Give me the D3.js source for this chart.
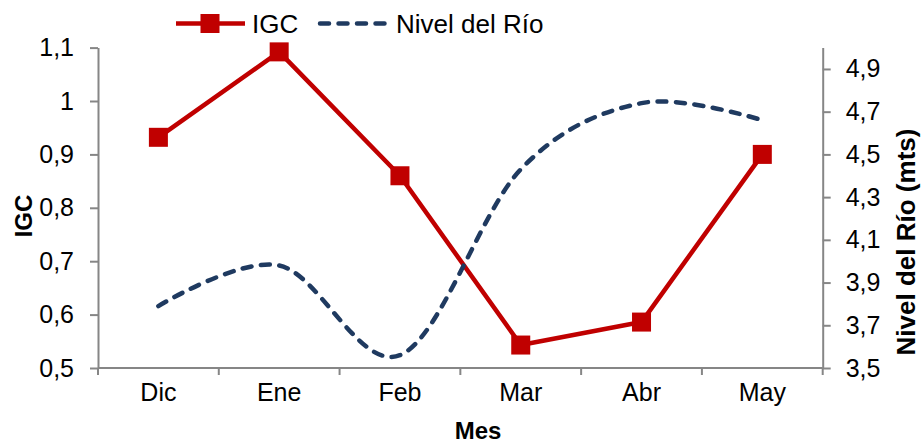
<!DOCTYPE html>
<html>
<head>
<meta charset="utf-8">
<script src="https://cdn.jsdelivr.net/npm/d3@7"></script>
<style>
  html, body { margin: 0; padding: 0; background: #fff; }
  svg text { font-family: "Liberation Sans", Arial, sans-serif; fill: #000; }
</style>
</head>
<body>
<svg id="chart" width="921" height="445"></svg>
<script>
const months = ["Dic", "Ene", "Feb", "Mar", "Abr", "May"];
const igc = [0.932, 1.092, 0.860, 0.543, 0.586, 0.900];
const nivel = [3.79, 3.98, 3.56, 4.43, 4.74, 4.66];
const leftTicks = [0.5, 0.6, 0.7, 0.8, 0.9, 1.0, 1.1];
const leftTickLabels = ["0,5", "0,6", "0,7", "0,8", "0,9", "1", "1,1"];
const rightTicks = [3.5, 3.7, 3.9, 4.1, 4.3, 4.5, 4.7, 4.9];
const rightTickLabels = ["3,5", "3,7", "3,9", "4,1", "4,3", "4,5", "4,7", "4,9"];

const svg = d3.select("#chart");
const L = 98, R = 822.7, T = 47.6, B = 368;
const axisColor = "#868686";
const red = "#C00000", navy = "#1F3A60";

const x = d3.scaleBand().domain(months).range([L, R]).padding(0);
const cx = d => x(d) + x.bandwidth() / 2;
const yL = d3.scaleLinear().domain([0.5, 1.1]).range([B, T]);
const yR = d3.scaleLinear().domain([3.5, 5.0]).range([B, T]);

function styleAxis(g) {
  g.select(".domain").attr("stroke", axisColor).attr("stroke-width", 2);
  g.selectAll(".tick line").attr("stroke", axisColor).attr("stroke-width", 2);
  g.selectAll(".tick text").attr("font-size", 25).attr("fill", "#000")
    .style("font-family", "'Liberation Sans', Arial, sans-serif");
}

// Left axis
svg.append("g").attr("transform", `translate(${L},0)`)
  .call(d3.axisLeft(yL).tickValues(leftTicks)
    .tickFormat((d, i) => leftTickLabels[i]).tickSize(8).tickSizeOuter(0).tickPadding(16))
  .call(styleAxis);

// Right axis
svg.append("g").attr("transform", `translate(${R},0)`)
  .call(d3.axisRight(yR).tickValues(rightTicks)
    .tickFormat((d, i) => rightTickLabels[i]).tickSize(8).tickSizeOuter(0).tickPadding(15))
  .call(styleAxis);

// Bottom axis: labels + boundary ticks
const gx = svg.append("g").attr("transform", `translate(0,${B})`)
  .call(d3.axisBottom(x).tickSize(0).tickSizeOuter(0).tickPadding(15))
  .call(styleAxis);
gx.select(".domain").attr("d", `M${L},0H${R}`);
const edges = months.map(m => x(m)).concat([x.range()[1]]);
gx.selectAll(".edge").data(edges).enter().append("line")
  .attr("x1", d => d).attr("x2", d => d).attr("y1", 0).attr("y2", 7)
  .attr("stroke", axisColor).attr("stroke-width", 2);

// Axis titles
svg.append("text").attr("transform", `translate(32,216) rotate(-90)`)
  .attr("text-anchor", "middle").attr("font-size", 24).attr("font-weight", "bold").text("IGC");
svg.append("text").attr("x", 478).attr("y", 439)
  .attr("text-anchor", "middle").attr("font-size", 24).attr("font-weight", "bold").text("Mes");
svg.append("text").attr("transform", `translate(915,242) rotate(-90)`)
  .attr("text-anchor", "middle").attr("font-size", 26).attr("font-weight", "bold").text("Nivel del Río (mts)");

// IGC line
const lineL = d3.line().x((d, i) => cx(months[i])).y(d => yL(d));
svg.append("path").datum(igc).attr("d", lineL)
  .attr("fill", "none").attr("stroke", red).attr("stroke-width", 4.5).attr("stroke-linejoin", "round");
const ms = 19;
svg.selectAll(".mk").data(igc).enter().append("rect")
  .attr("x", (d, i) => cx(months[i]) - ms / 2).attr("y", d => yL(d) - ms / 2)
  .attr("width", ms).attr("height", ms).attr("fill", red);

// Nivel line (smoothed, dashed)
const lineR = d3.line().x((d, i) => cx(months[i])).y(d => yR(d)).curve(d3.curveCardinal.tension(0));
svg.append("path").datum(nivel).attr("d", lineR)
  .attr("fill", "none").attr("stroke", navy).attr("stroke-width", 4.5)
  .attr("stroke-dasharray", "9,9.5").attr("stroke-linecap", "round");

// Legend
const ly = 23.5;
svg.append("line").attr("x1", 176).attr("x2", 245).attr("y1", ly).attr("y2", ly)
  .attr("stroke", red).attr("stroke-width", 4.5);
svg.append("rect").attr("x", 210 - ms / 2).attr("y", ly - ms / 2).attr("width", ms).attr("height", ms).attr("fill", red);
svg.append("text").attr("x", 252).attr("y", 33).attr("font-size", 26).text("IGC");
svg.append("line").attr("x1", 320).attr("x2", 389).attr("y1", ly).attr("y2", ly)
  .attr("stroke", navy).attr("stroke-width", 4.5).attr("stroke-dasharray", "9,9.5").attr("stroke-linecap", "round");
svg.append("text").attr("x", 396).attr("y", 33).attr("font-size", 26).text("Nivel del Río");
</script>
</body>
</html>
